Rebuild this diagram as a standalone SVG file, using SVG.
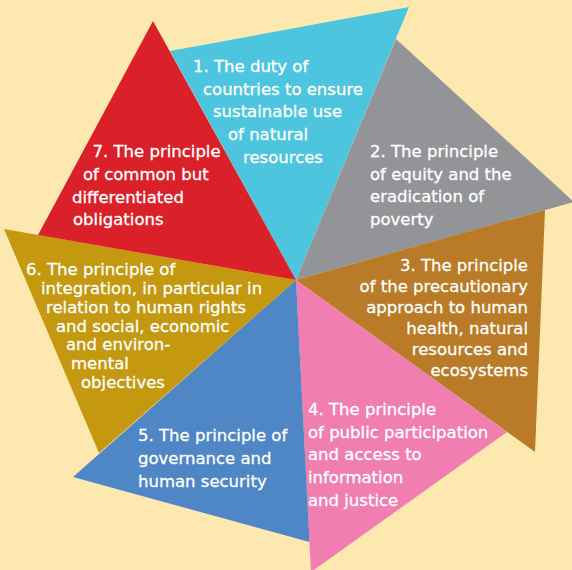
<svg xmlns="http://www.w3.org/2000/svg" width="572" height="570" viewBox="0 0 572 570">
  <style>
    .lbl { font-family: "DejaVu Sans", "Liberation Sans", sans-serif; font-size: 16.5px; fill: #ffffff; stroke: #ffffff; stroke-width: 0.3px; }
    .end { text-anchor: end; }
  </style>
  <rect x="0" y="0" width="572" height="570" fill="#fde9b0"/>

  <!-- seven triangles fanning out from the shared centre (296,280) -->
  <g id="p1-duty-of-countries">
    <polygon points="296,280 170,51 409,7" fill="#4ec5df"/>
    <text class="lbl" x="193" y="72">1. The duty of</text>
    <text class="lbl" x="203" y="94.5">countries to ensure</text>
    <text class="lbl" x="213" y="117">sustainable use</text>
    <text class="lbl" x="228" y="140">of natural</text>
    <text class="lbl" x="243" y="162.5">resources</text>
  </g>

  <g id="p2-equity">
    <polygon points="296,280 396,39 574,202" fill="#939497"/>
    <text class="lbl" x="370" y="157">2. The principle</text>
    <text class="lbl" x="370" y="179.5">of equity and the</text>
    <text class="lbl" x="370" y="202">eradication of</text>
    <text class="lbl" x="370" y="224.5">poverty</text>
  </g>

  <g id="p3-precaution">
    <polygon points="296,280 545,210 535,452" fill="#b97b27"/>
    <text class="lbl end" x="528" y="271">3. The principle</text>
    <text class="lbl end" x="528" y="292">of the precautionary</text>
    <text class="lbl end" x="528" y="313">approach to human</text>
    <text class="lbl end" x="528" y="334">health, natural</text>
    <text class="lbl end" x="528" y="355">resources and</text>
    <text class="lbl end" x="528" y="376">ecosystems</text>
  </g>

  <g id="p4-participation">
    <polygon points="296,280 507,432 311,572" fill="#f07eb1"/>
    <text class="lbl" x="308" y="415">4. The principle</text>
    <text class="lbl" x="308" y="437.5">of public participation</text>
    <text class="lbl" x="308" y="460">and access to</text>
    <text class="lbl" x="308" y="483">information</text>
    <text class="lbl" x="308" y="505.5">and justice</text>
  </g>

  <g id="p5-governance">
    <polygon points="296,280 309.5,542 73,477" fill="#4f86c5"/>
    <text class="lbl" x="138" y="441">5. The principle of</text>
    <text class="lbl" x="138" y="464">governance and</text>
    <text class="lbl" x="138" y="486.5">human security</text>
  </g>

  <g id="p6-integration">
    <polygon points="296,280 99,453 4,229" fill="#c4980f"/>
    <text class="lbl" x="26" y="274.5">6. The principle of</text>
    <text class="lbl" x="41" y="293.5">integration, in particular in</text>
    <text class="lbl" x="46" y="312.5">relation to human rights</text>
    <text class="lbl" x="56" y="331.5">and social, economic</text>
    <text class="lbl" x="66" y="350">and environ-</text>
    <text class="lbl" x="71" y="369">mental</text>
    <text class="lbl" x="81" y="388">objectives</text>
  </g>

  <g id="p7-common-obligations">
    <polygon points="296,280 38,235 153,21" fill="#da2129"/>
    <text class="lbl" x="92.5" y="157">7. The principle</text>
    <text class="lbl" x="83" y="180">of common but</text>
    <text class="lbl" x="72" y="202.5">differentiated</text>
    <text class="lbl" x="73" y="225">obligations</text>
  </g>
</svg>
